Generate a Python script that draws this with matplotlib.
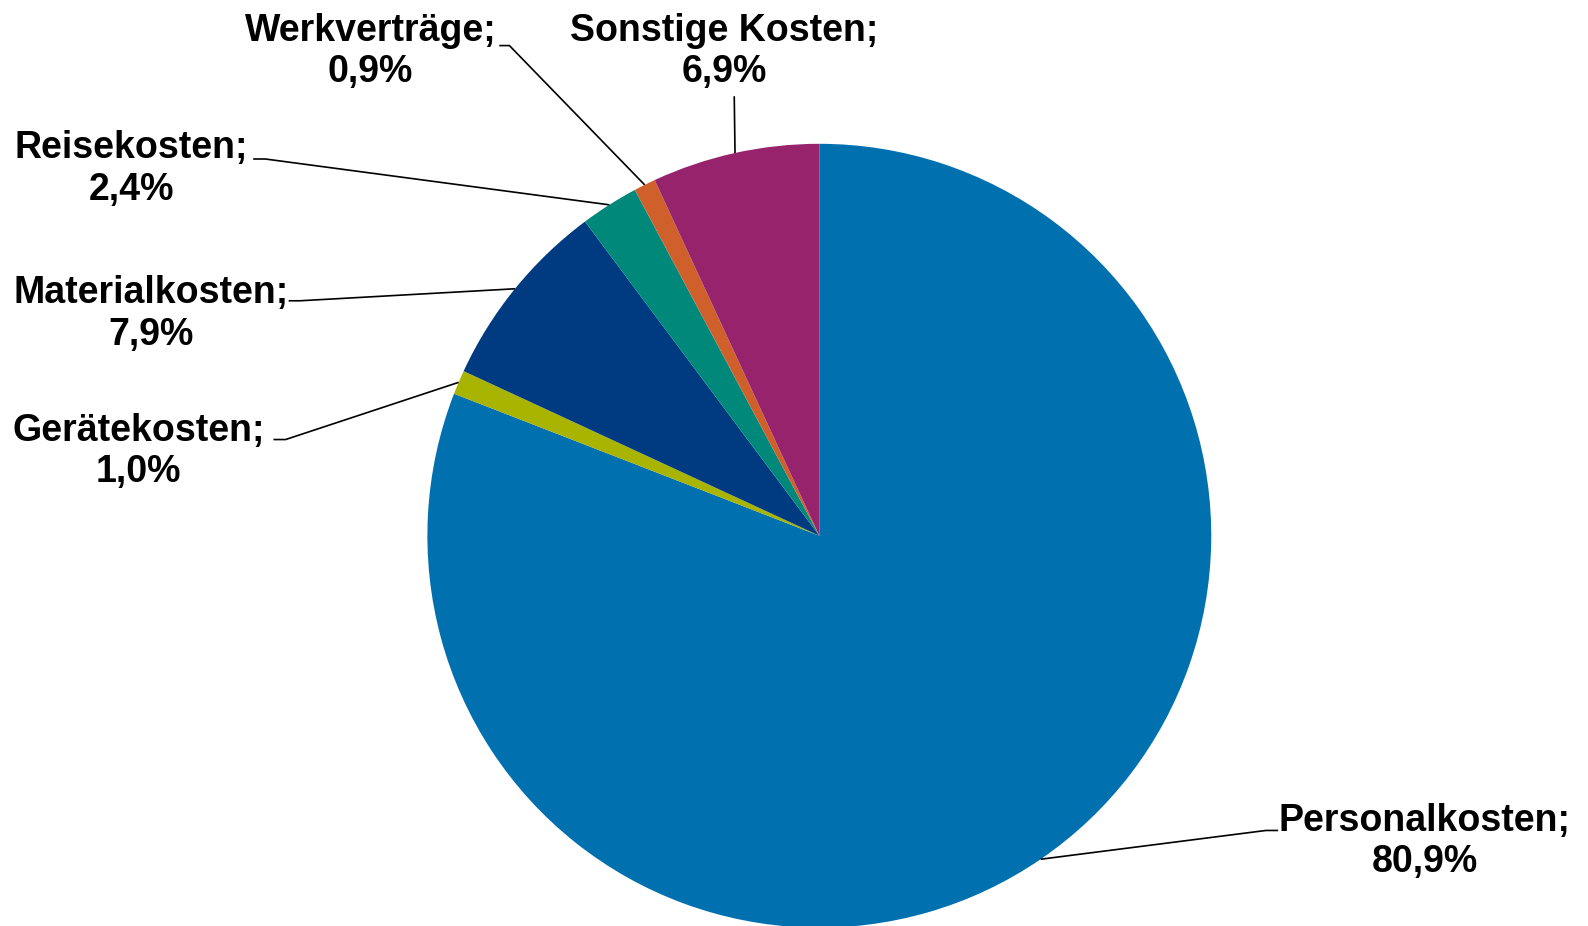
import matplotlib
matplotlib.use("Agg")
import matplotlib.pyplot as plt
import numpy as np

# data
categories = ["Personalkosten", "Gerätekosten", "Materialkosten",
              "Reisekosten", "Werkverträge", "Sonstige Kosten"]
shares = [80.9, 1.0, 7.9, 2.4, 0.9, 6.9]
colors = ["#0070AF", "#A8B400", "#003A80", "#00897B", "#D0602B", "#98236D"]

plt.rcParams['font.family'] = ['Liberation Sans', 'DejaVu Sans']

W, H = 1588, 926
S = 1588 / 1568  # measurements were taken on a 1568 px wide view
cx, cy, R = 809 * S, 529 * S, 387 * S  # pie centre / radius in pixels

def px(x, y):
    # measured pixel position -> data coords (pie radius = 1)
    return (x * S - cx) / R, (cy - y * S) / R

fig = plt.figure(figsize=(W / 100, H / 100), dpi=100)
ax = fig.add_axes([0, 0, 1, 1])

wedges, _ = ax.pie(shares, colors=colors, startangle=90, counterclock=False,
                   radius=1, wedgeprops=dict(linewidth=0))

ax.set_xlim(-cx / R, (W - cx) / R)
ax.set_ylim((cy - H) / R, cy / R)
ax.set_aspect('equal')
ax.axis('off')

# label layout (measured pixel positions): text centre, elbow, line end
label_pos = [(1407, 831), (137, 446), (149, 310), (130, 167), (366, 51), (715, 51)]
elbows = [(1250, 820), (282, 434), (296, 297), (262, 157), (503, 45), (725, 95)]
ends = [(1262, 820), (270, 434), (285, 297), (250, 157), (493, 45), (725, 95)]

for w, name, val, lp, el, en in zip(wedges, categories, shares, label_pos, elbows, ends):
    ang = np.deg2rad((w.theta1 + w.theta2) / 2)
    sx, sy = np.cos(ang), np.sin(ang)
    ex, ey = px(*el)
    nx, ny = px(*en)
    ax.plot([sx, ex, nx], [sy, ey, ny], color="black", lw=1.2,
            solid_capstyle="butt", zorder=3)
    tx, ty = px(*lp)
    txt = f"{name};\n{val:.1f}%".replace(".", ",")
    ax.text(tx, ty, txt, ha="center", va="center", fontsize=27,
            fontweight="bold", linespacing=1.2, color="black")

fig.savefig("out.png", dpi=100)
